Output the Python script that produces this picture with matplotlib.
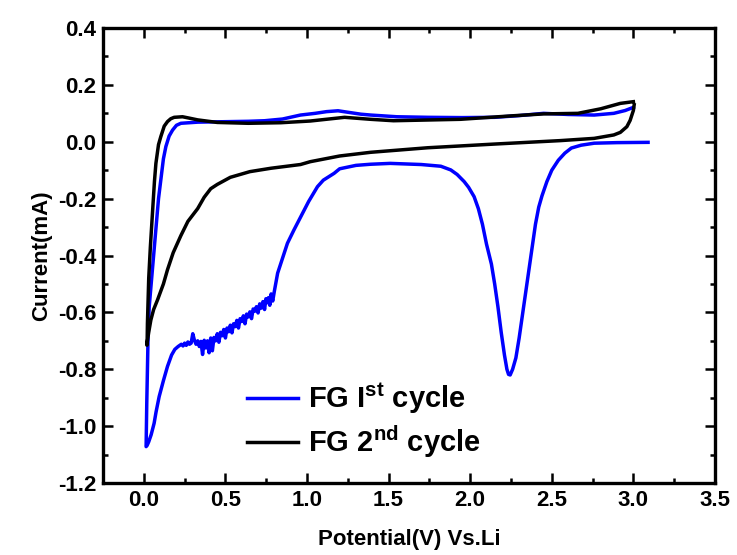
import numpy as np
import matplotlib
matplotlib.use('Agg')
import matplotlib.pyplot as plt
from matplotlib.ticker import MultipleLocator

'''
CV curves of FG electrode, 1st and 2nd cycle
'''

# 1st cycle (blue): cathodic sweep from 3.09 V down to ~0 V, then anodic back to 3.0 V
v1 = [3.09, 2.90, 2.76, 2.68, 2.62, 2.58, 2.54, 2.50, 2.47, 2.44, 2.42, 2.40, 2.38, 2.36,
      2.34, 2.32, 2.30, 2.28, 2.26, 2.245, 2.235, 2.225, 2.21, 2.19, 2.17, 2.15, 2.13, 2.10,
      2.075, 2.05, 2.024, 1.99, 1.963, 1.92, 1.881, 1.82, 1.70, 1.60, 1.51, 1.39, 1.30,
      1.20, 1.166, 1.10, 1.064, 1.01, 0.962, 0.92, 0.88, 0.85, 0.82,
      0.800, 0.790, 0.780, 0.772, 0.764, 0.756, 0.748, 0.740, 0.730, 0.720, 0.710, 0.700,
      0.690, 0.680, 0.670, 0.660, 0.650, 0.640, 0.630, 0.620, 0.610, 0.600, 0.590, 0.580,
      0.570, 0.560, 0.550, 0.540, 0.530, 0.520, 0.510, 0.500, 0.490, 0.480, 0.470, 0.460,
      0.450, 0.440, 0.430, 0.420, 0.410, 0.400, 0.390, 0.380, 0.370, 0.360, 0.350, 0.340,
      0.330, 0.320, 0.310, 0.300, 0.290, 0.280, 0.270, 0.260, 0.250, 0.240, 0.230,
      0.21, 0.19, 0.17, 0.145, 0.12, 0.094, 0.075, 0.063, 0.045, 0.030,
      0.020, 0.014, 0.018, 0.022, 0.026, 0.033, 0.045, 0.060, 0.075, 0.090, 0.104, 0.12,
      0.135, 0.155, 0.176, 0.20, 0.227, 0.33, 0.43, 0.53, 0.64, 0.74, 0.85, 0.96, 1.05,
      1.12, 1.19, 1.26, 1.33, 1.39, 1.55, 1.74, 1.95, 2.15, 2.30, 2.45, 2.60, 2.76, 2.88,
      2.95, 3.0]
i1 = [-0.002, -0.003, -0.005, -0.012, -0.022, -0.04, -0.065, -0.10, -0.14, -0.19, -0.23,
      -0.29, -0.37, -0.45, -0.53, -0.61, -0.69, -0.76, -0.80, -0.82, -0.818, -0.80, -0.75,
      -0.67, -0.58, -0.50, -0.43, -0.36, -0.29, -0.235, -0.193, -0.16, -0.14, -0.115,
      -0.099, -0.086, -0.08, -0.078, -0.076, -0.079, -0.083, -0.095, -0.111, -0.135,
      -0.158, -0.21, -0.263, -0.31, -0.357, -0.41, -0.462,
      -0.525, -0.560, -0.535, -0.575, -0.548, -0.566, -0.552, -0.590, -0.562, -0.585,
      -0.570, -0.602, -0.580, -0.596, -0.588, -0.622, -0.598, -0.616, -0.606, -0.640,
      -0.612, -0.632, -0.622, -0.655, -0.628, -0.650, -0.640, -0.672, -0.645, -0.668,
      -0.655, -0.690, -0.660, -0.682, -0.670, -0.705, -0.675, -0.700, -0.688, -0.735,
      -0.690, -0.742, -0.700, -0.725, -0.698, -0.748, -0.702, -0.720, -0.700, -0.712,
      -0.698, -0.675, -0.708, -0.712, -0.704, -0.716, -0.708, -0.718, -0.712,
      -0.72, -0.73, -0.75, -0.79, -0.84, -0.896, -0.95, -0.99, -1.03, -1.055,
      -1.068, -1.072, -0.92, -0.80, -0.685, -0.58, -0.50, -0.40, -0.30, -0.20, -0.134,
      -0.06, -0.017, 0.02, 0.041, 0.058, 0.065, 0.069, 0.070, 0.071, 0.072, 0.074, 0.080,
      0.094, 0.100, 0.106, 0.109, 0.103, 0.097, 0.094, 0.088, 0.086, 0.085, 0.086, 0.092,
      0.100, 0.096, 0.094, 0.100, 0.110, 0.121]

# 2nd cycle (black): cathodic sweep from 3.0 V, then anodic back to 3.0 V
v2 = [3.005, 3.0, 2.98, 2.96, 2.92, 2.88, 2.76, 2.55, 2.15, 1.74, 1.39, 1.20, 1.02, 0.96,
      0.78, 0.65, 0.53, 0.45, 0.41, 0.37, 0.33, 0.27, 0.227, 0.18, 0.145, 0.12, 0.084,
      0.060, 0.043, 0.030, 0.018,
      0.020, 0.022, 0.026, 0.030, 0.040, 0.053, 0.065, 0.074, 0.090, 0.104, 0.125, 0.145,
      0.165, 0.186, 0.237, 0.28, 0.33, 0.45, 0.64, 0.84, 1.02, 1.23, 1.39, 1.53, 1.94,
      2.25, 2.45, 2.66, 2.80, 2.92, 3.0]
i2 = [0.13, 0.11, 0.075, 0.053, 0.033, 0.024, 0.012, 0.004, -0.008, -0.021, -0.037,
      -0.05, -0.07, -0.08, -0.093, -0.105, -0.125, -0.15, -0.165, -0.195, -0.235, -0.28,
      -0.33, -0.39, -0.45, -0.50, -0.556, -0.59, -0.627, -0.67, -0.715,
      -0.715, -0.64, -0.56, -0.48, -0.37, -0.25, -0.14, -0.076, -0.01, 0.018, 0.055, 0.071,
      0.081, 0.086, 0.088, 0.083, 0.077, 0.068, 0.065, 0.067, 0.073, 0.086, 0.079, 0.074,
      0.079, 0.091, 0.098, 0.100, 0.116, 0.135, 0.141]

labels = [r'FG I$^{\mathbf{st}}$ cycle', r'FG 2$^{\mathbf{nd}}$ cycle']
xticks = [0.0, 0.5, 1.0, 1.5, 2.0, 2.5, 3.0, 3.5]
yticks = [0.4, 0.2, 0.0, -0.2, -0.4, -0.6, -0.8, -1.0, -1.2]

plt.rcParams['font.family'] = ['Liberation Sans', 'DejaVu Sans']
plt.rcParams['font.weight'] = 'bold'
plt.rcParams['mathtext.fontset'] = 'custom'
plt.rcParams['mathtext.rm'] = 'Liberation Sans:bold'
plt.rcParams['mathtext.bf'] = 'Liberation Sans:bold'

fig = plt.figure(figsize=(7.37, 5.55), dpi=100)
ax = fig.add_axes([0.1398, 0.1297, 0.8303, 0.8198])

ax.plot(v1, i1, color='#0000ff', lw=2.5, label=labels[0])
ax.plot(v2, i2, color='black', lw=2.5, label=labels[1])

ax.set_xlim(-0.25, 3.5)
ax.set_ylim(-1.2, 0.4)
ax.set_xticks(xticks)
ax.set_yticks(yticks)
ax.set_xticklabels(['%.1f' % t for t in xticks])
ax.set_yticklabels(['%.1f' % t for t in yticks])
ax.xaxis.set_minor_locator(MultipleLocator(0.25))
ax.yaxis.set_minor_locator(MultipleLocator(0.1))
ax.tick_params(which='both', direction='in', top=True, right=True, width=1.8)
ax.tick_params(which='major', length=7, labelsize=16, pad=5)
ax.tick_params(which='minor', length=3.5)
for sp in ax.spines.values():
    sp.set_linewidth(2.4)

ax.set_xlabel('Potential(V) Vs.Li', fontsize=16, fontweight='bold', labelpad=13)
ax.set_ylabel('Current(mA)', fontsize=16, fontweight='bold', labelpad=4)

ax.legend(loc='upper left', bbox_to_anchor=(0.235, 0.224), frameon=False,
          fontsize=21, handlelength=1.75, handletextpad=0.35, borderpad=0,
          borderaxespad=0, labelspacing=0.25)

plt.savefig('out.png', dpi=100)
